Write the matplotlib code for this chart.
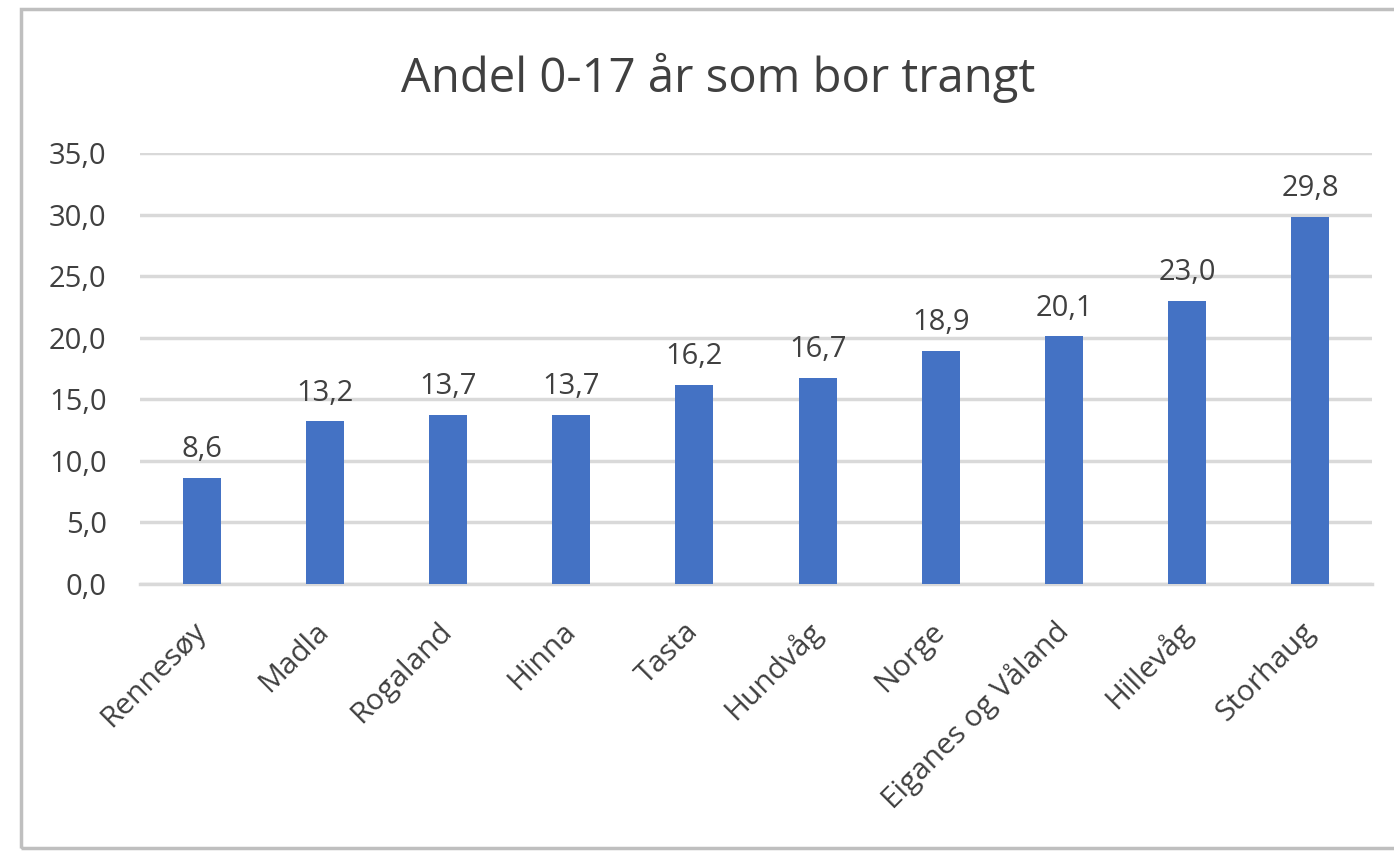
import numpy as np
import matplotlib.pyplot as plt
from matplotlib.patches import Rectangle

# data
steder = ['Rennesøy', 'Madla', 'Rogaland', 'Hinna', 'Tasta', 'Hundvåg',
          'Norge', 'Eiganes og Våland', 'Hillevåg', 'Storhaug']
andel = [8.6, 13.2, 13.7, 13.7, 16.2, 16.7, 18.9, 20.1, 23.0, 29.8]
y_ticks = [0, 5, 10, 15, 20, 25, 30, 35]

plt.rcParams['font.family'] = ['Open Sans', 'DejaVu Sans']
tekst = '#404040'

fig = plt.figure(figsize=(13.94, 8.57), dpi=100)
fig.patches.append(Rectangle((21/1394, 9/857), 1.2, 1 - 18/857, transform=fig.transFigure,
                             fill=False, edgecolor='#BFBFBF', linewidth=2.5))

ax = fig.add_axes([140/1394, 1 - 584/857, 1232/1394, 431/857])
x = np.arange(len(steder))
bars = ax.bar(x, andel, width=0.31, color='#4472C4', zorder=3)

ax.set_xlim(-0.5, len(steder) - 0.5)
ax.set_ylim(0, 35)
ax.set_yticks(y_ticks)
ax.set_yticklabels([f'{v:.1f}'.replace('.', ',') for v in y_ticks], fontsize=21, color=tekst)
ax.yaxis.grid(True, color='#D9D9D9', linewidth=2.5, zorder=0)
ax.tick_params(axis='y', length=0, pad=24)
ax.tick_params(axis='x', length=0, pad=31)
ax.set_xticks(x)
ax.set_xticklabels(steder, rotation=45, ha='right', va='center', rotation_mode='anchor',
                   fontsize=21.5, color=tekst)
for s in ['top', 'right', 'left']:
    ax.spines[s].set_visible(False)
ax.spines['bottom'].set_color('#D9D9D9')
ax.spines['bottom'].set_linewidth(2.5)

for xi, v in zip(x, andel):
    ax.annotate(f'{v:.1f}'.replace('.', ','), (xi, v), xytext=(0, 10),
                textcoords='offset points', ha='center', va='bottom',
                fontsize=21, color=tekst)

fig.text(718/1394, 1 - 78/857, 'Andel 0-17 år som bor trangt', ha='center', va='center',
         fontsize=34, color=tekst)

fig.savefig('out.png', dpi=100)
